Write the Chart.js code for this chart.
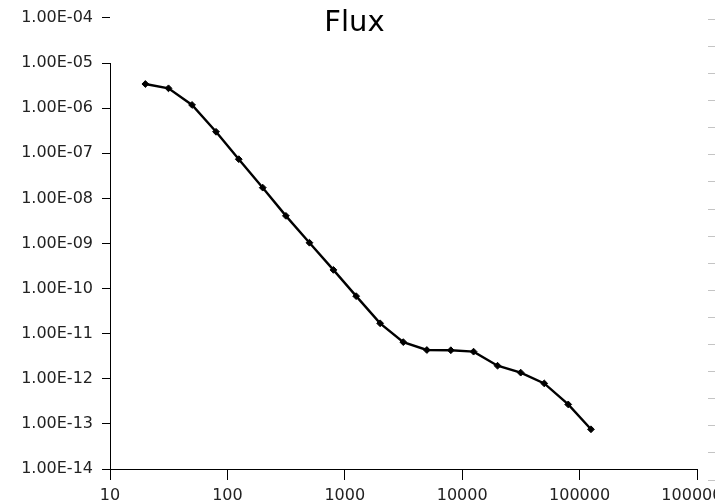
<!DOCTYPE html>
<html>
<head>
<meta charset="utf-8">
<script src="https://cdn.jsdelivr.net/npm/chart.js@4/dist/chart.umd.min.js"></script>
<style>
  html, body { margin: 0; padding: 0; background: #fff; overflow: hidden; }
  #wrap { position: relative; width: 715px; height: 503px; }
</style>
</head>
<body>
<div id="wrap"><canvas id="c" width="715" height="503"></canvas></div>
<script>
// ---- data ----
const titleText = "Flux";
const frequencies = [20, 31.5, 50, 80, 125, 200, 315, 500, 800, 1250, 2000, 3150, 5000, 8000, 12500, 20000, 31500, 50000, 80000, 125000];
const fluxValues = [3.44e-6, 2.76e-6, 1.18e-6, 3.0e-7, 7.4e-8, 1.73e-8, 4.1e-9, 1.04e-9, 2.6e-10, 6.8e-11, 1.7e-11, 6.5e-12, 4.35e-12, 4.3e-12, 4.0e-12, 1.95e-12, 1.37e-12, 7.9e-13, 2.7e-13, 7.6e-14];
const xTickValues = [10, 100, 1000, 10000, 100000, 1000000];
const xTickLabels = ["10", "100", "1000", "10000", "100000", "1000000"];
const yTickValues = [1e-14, 1e-13, 1e-12, 1e-11, 1e-10, 1e-9, 1e-8, 1e-7, 1e-6, 1e-5, 1e-4];
const yTickLabels = ["1.00E-14", "1.00E-13", "1.00E-12", "1.00E-11", "1.00E-10", "1.00E-09", "1.00E-08", "1.00E-07", "1.00E-06", "1.00E-05", "1.00E-04"];
const rightMarkSteps = [0, 1, 2, 3, 4, 5, 6, 7, 8, 9, 10, 11, 12, 13, 14, 15, 16, 17];

const points = frequencies.map((f, i) => ({ x: f, y: fluxValues[i] }));
const FONT = "'DejaVu Sans', sans-serif";

// y axis line starts at the 1e-5 tick (not at the top 1e-4 tick)
function yBorderColor(ctx) {
  const chart = ctx.chart;
  const s = chart.scales.y;
  if (!s || !chart.chartArea) return '#000';
  const yStart = s.getPixelForValue(1e-5);
  const g = chart.ctx.createLinearGradient(0, 0, 0, chart.height);
  const f = Math.max(0, Math.min(1, (yStart - 0.5) / chart.height));
  g.addColorStop(0, 'rgba(0,0,0,0)');
  g.addColorStop(f, 'rgba(0,0,0,0)');
  g.addColorStop(Math.min(1, f + 0.0001), '#000');
  g.addColorStop(1, '#000');
  return g;
}

new Chart(document.getElementById('c'), {
  type: 'line',
  data: {
    datasets: [{
      data: points,
      borderColor: '#000',
      backgroundColor: '#000',
      borderWidth: 2.4,
      pointStyle: 'rectRot',
      pointRadius: 3.4,
      pointBorderWidth: 1,
      tension: 0,
      fill: false
    }]
  },
  options: {
    responsive: false,
    animation: false,
    events: [],
    layout: { padding: { left: 0, top: 0, bottom: 0, right: 6 } },
    plugins: {
      legend: { display: false },
      tooltip: { enabled: false },
      title: {
        display: true,
        text: titleText,
        color: '#000',
        font: { family: FONT, size: 29, weight: 'normal', lineHeight: 1.2 },
        padding: { top: 6.5, bottom: -23.3 }
      }
    },
    scales: {
      x: {
        type: 'logarithmic',
        position: 'bottom',
        min: 10,
        max: 1000000,
        afterBuildTicks: s => { s.ticks = xTickValues.map(v => ({ value: v })); },
        afterFit: s => { s.height = 34; s.paddingRight = 0; s.paddingLeft = 0; },
        ticks: {
          autoSkip: false,
          maxRotation: 0,
          color: '#222',
          padding: 6,
          font: { family: FONT, size: 16 },
          callback: (v, i) => xTickLabels[i]
        },
        grid: { drawOnChartArea: false, drawTicks: true, tickLength: 11, tickColor: '#000', tickWidth: 1 },
        border: { display: true, color: '#000', width: 1 }
      },
      y: {
        type: 'logarithmic',
        position: 'left',
        min: 1e-14,
        max: 1e-4,
        afterBuildTicks: s => { s.ticks = yTickValues.map(v => ({ value: v })); },
        afterFit: s => { s.width = 110; s.paddingTop = 0; s.paddingBottom = 0; },
        ticks: {
          autoSkip: false,
          color: '#222',
          padding: 9,
          font: { family: FONT, size: 16 },
          callback: (v, i) => yTickLabels[i]
        },
        grid: { drawOnChartArea: false, drawTicks: true, tickLength: 8, tickColor: '#000', tickWidth: 1 },
        border: { display: true, color: yBorderColor, width: 1 }
      },
      yRight: {
        type: 'linear',
        position: 'right',
        reverse: true,
        min: -0.048,
        max: 16.594,
        afterBuildTicks: s => { s.ticks = rightMarkSteps.map(v => ({ value: v })); },
        afterFit: s => { s.width = 12; },
        ticks: { display: false },
        grid: { drawOnChartArea: false, drawTicks: true, tickLength: 18, tickColor: '#c4c4c4', tickWidth: 1, tickBorderDash: [0, 11, 7, 100] },
        border: { display: false }
      }
    }
  }
});
</script>
</body>
</html>
